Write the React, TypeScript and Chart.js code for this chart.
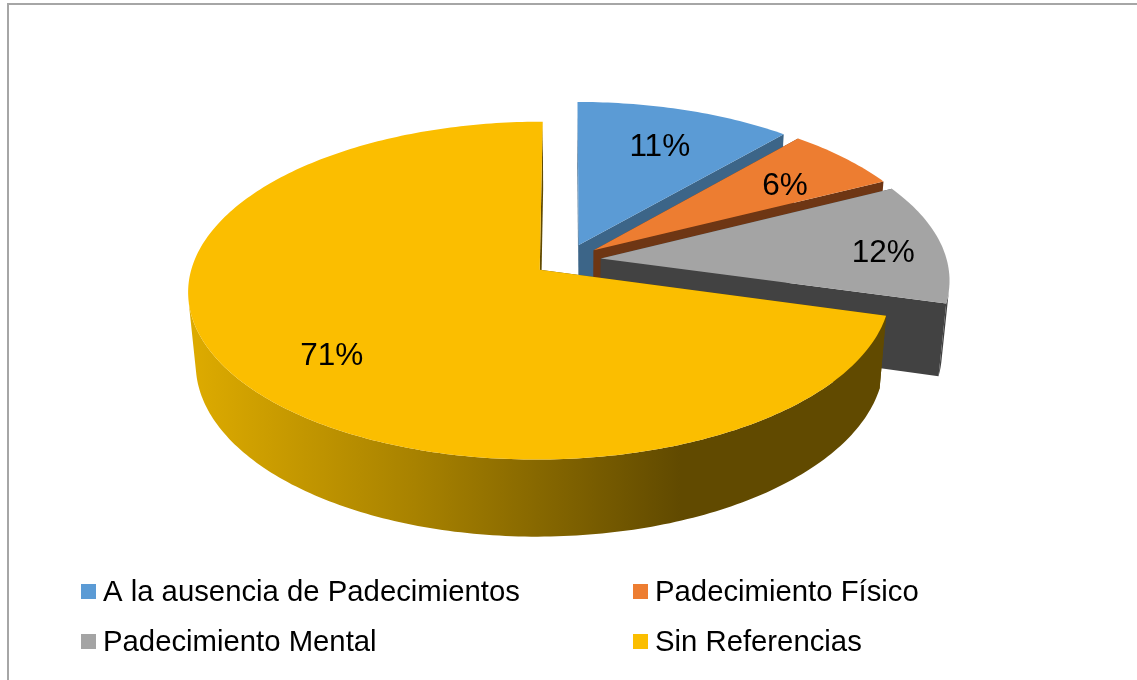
import React, { useEffect, useRef } from "react";
import { Chart, registerables } from "chart.js";

Chart.register(...registerables);

const categories = ["A la ausencia de Padecimientos", "Padecimiento Físico", "Padecimiento Mental", "Sin Referencias"];
const values = [11.4, 6.2, 11.7, 70.7];
const topColors = ["#5b9bd5", "#ed7d31", "#a4a4a4", "#fbbe00"];
const wallColors = ["#3c6588", "#6e3614", "#424242", "#614a00"];
const labelRadius = [0.74, 0.75, 0.83, 0.705];
const labelNudgeY = [5, 6, 8, 12];

const TILT = 0.474;
const PERSPECTIVE = 0.122;
const DEPTH = 0.21;
const DEPTH_SHRINK = 0.02;

const pie3d = {
  id: "pie3d",
  beforeDatasetsDraw(chart: any) {
    const ctx: CanvasRenderingContext2D = chart.ctx;
    const arcs = chart.getDatasetMeta(0).data;
    const total = values.reduce((s, v) => s + v, 0);
    const project = (el: any, a: number | null, r: number, z: number) => {
      const R = el.outerRadius;
      const e = el.options.offset / R;
      const mid = (el.startAngle + el.endAngle) / 2;
      let u = e * Math.cos(mid);
      let v = -e * Math.sin(mid);
      if (a !== null) {
        u += r * Math.cos(a);
        v -= r * Math.sin(a);
      }
      const w = 1 + PERSPECTIVE * v + DEPTH_SHRINK * z;
      return [el.x + (R * u) / w, el.y + (R * (-TILT * v + DEPTH * z)) / w];
    };
    const wallGradient = ctx.createLinearGradient(197, 0, 680, 0);
    wallGradient.addColorStop(0, "#dcaa00");
    wallGradient.addColorStop(0.45, "#a88200");
    wallGradient.addColorStop(1, "#614a00");

    const poly = (p: number[][], style: any) => {
      ctx.beginPath();
      p.forEach((q, n) => (n ? ctx.lineTo(q[0], q[1]) : ctx.moveTo(q[0], q[1])));
      ctx.closePath();
      ctx.fillStyle = style;
      ctx.fill();
    };
    const shoelace = (p: number[][]) =>
      p.reduce((s, q, n) => {
        const o = p[(n + 1) % p.length];
        return s + q[0] * o[1] - o[0] * q[1];
      }, 0);

    arcs.forEach((el: any, i: number) => {
      const steps = Math.ceil((el.endAngle - el.startAngle) * 60);
      const angleAt = (k: number) => el.startAngle + ((el.endAngle - el.startAngle) * k) / steps;
      const wall = i === 3 ? wallGradient : wallColors[i];
      for (const a of [el.startAngle, el.endAngle]) {
        poly(
          [project(el, null, 0, 0), project(el, a, 1, 0), project(el, a, 1, 1), project(el, null, 0, 1)],
          wallColors[i]
        );
      }
      // outer wall: contiguous camera-facing runs, each filled as one shape
      let upper: number[][] = [];
      let lower: number[][] = [];
      const flush = () => {
        if (upper.length) poly([...upper, ...lower.reverse()], wall);
        upper = [];
        lower = [];
      };
      for (let k = 0; k < steps; k++) {
        const a0 = angleAt(k);
        const a1 = angleAt(k + 1);
        const q = [project(el, a0, 1, 0), project(el, a1, 1, 0), project(el, a1, 1, 1), project(el, a0, 1, 1)];
        if (shoelace(q) < 0) {
          if (!upper.length) {
            upper.push(q[0]);
            lower.push(q[3]);
          }
          upper.push(q[1]);
          lower.push(q[2]);
        } else flush();
      }
      flush();
      const top: number[][] = [project(el, null, 0, 0)];
      for (let k = 0; k <= steps; k++) top.push(project(el, angleAt(k), 1, 0));
      poly(top, topColors[i]);
    });

    ctx.fillStyle = "#000";
    ctx.font = '31.5px "Liberation Sans"';
    ctx.textAlign = "center";
    ctx.textBaseline = "middle";
    arcs.forEach((el: any, i: number) => {
      const mid = (el.startAngle + el.endAngle) / 2;
      const [x, y] = project(el, mid, labelRadius[i], 0);
      ctx.fillText(`${Math.round((values[i] / total) * 100)}%`, x, y + labelNudgeY[i]);
    });
    return false;
  },
  afterDraw(chart: any) {
    const ctx: CanvasRenderingContext2D = chart.ctx;
    ctx.fillStyle = "#a6a6a6";
    ctx.fillRect(7, 3, 1130, 2);
    ctx.fillRect(7, 3, 2, 677);
    ctx.font = '29.3px "Liberation Sans"';
    ctx.textAlign = "left";
    ctx.textBaseline = "alphabetic";
    const columns = [81, 633];
    const rows = [584, 634];
    categories.forEach((name, i) => {
      const x = columns[i % 2];
      const y = rows[Math.floor(i / 2)];
      ctx.fillStyle = topColors[i];
      ctx.fillRect(x, y, 15, 15);
      ctx.fillStyle = "#000";
      ctx.fillText(name, x + 22, y + 17);
    });
  },
};

export default function App() {
  const ref = useRef<HTMLCanvasElement>(null);
  useEffect(() => {
    const chart = new Chart(ref.current!, {
      type: "pie",
      data: {
        labels: categories,
        datasets: [{ data: values, backgroundColor: topColors, borderWidth: 0, offset: 34 }],
      },
      options: {
        responsive: false,
        animation: false,
        radius: 346,
        layout: { padding: { left: 0, right: 3, top: 0, bottom: 160 } },
        plugins: { legend: { display: false }, tooltip: { enabled: false } },
      } as any,
      plugins: [pie3d],
    });
    return () => chart.destroy();
  }, []);
  return (
    <div style={{ position: "fixed", left: 0, top: 0, width: 1137, height: 680, background: "#fff" }}>
      <canvas ref={ref} width={1137} height={680} style={{ display: "block" }} />
    </div>
  );
}
